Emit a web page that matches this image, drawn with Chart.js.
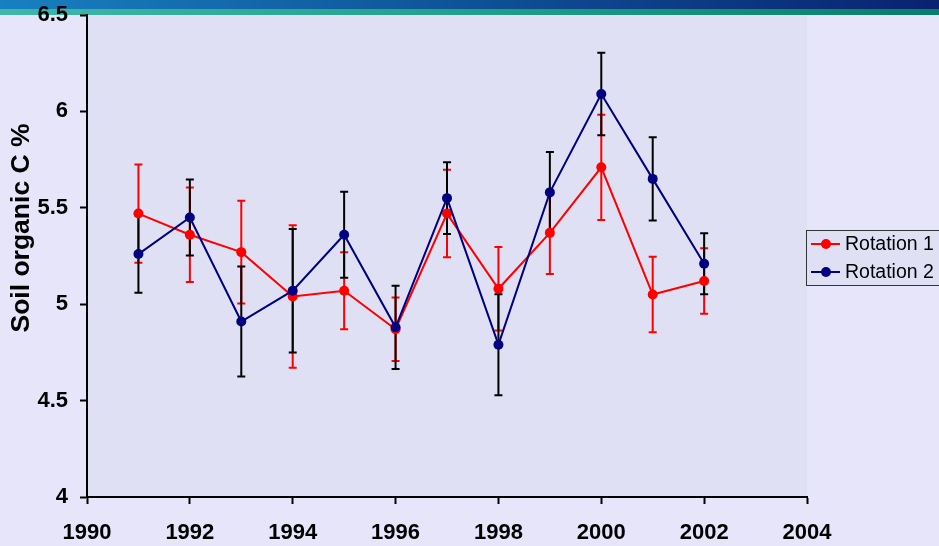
<!DOCTYPE html>
<html>
<head>
<meta charset="utf-8">
<script src="https://cdn.jsdelivr.net/npm/chart.js@4"></script>
<style>
    body { margin: 0; background: #E6E5FA; }
    #chart { display: block; }
</style>
</head>
<body>
<canvas id="chart" width="939" height="546"></canvas>
<script>
// 年ごとの土壌有機炭素（平均値と誤差）
const years = [1991, 1992, 1993, 1994, 1995, 1996, 1997, 1998, 1999, 2000, 2001, 2002];
const rotation1 = [5.47, 5.36, 5.27, 5.04, 5.07, 4.87, 5.47, 5.08, 5.37, 5.71, 5.05, 5.12];
const rotation1Err = [0.255, 0.245, 0.267, 0.37, 0.2, 0.165, 0.227, 0.217, 0.213, 0.273, 0.196, 0.17];
const rotation2 = [5.26, 5.45, 4.91, 5.07, 5.36, 4.88, 5.55, 4.79, 5.58, 6.09, 5.65, 5.21];
const rotation2Err = [0.2, 0.197, 0.285, 0.32, 0.223, 0.216, 0.186, 0.262, 0.21, 0.214, 0.216, 0.158];
const seriesNames = ['Rotation 1', 'Rotation 2'];
const yTitle = 'Soil organic C %';

const toPoints = (vals) => years.map((yr, i) => ({ x: yr, y: vals[i] }));

// 背景・上部の帯・プロットエリア
const background = {
    id: 'background',
    beforeDraw(chart) {
        const { ctx, chartArea } = chart;
        const w = chart.width;
        ctx.save();
        ctx.fillStyle = '#E6E5FA';
        ctx.fillRect(0, 0, w, chart.height);
        let g = ctx.createLinearGradient(0, 0, w, 0);
        g.addColorStop(0, '#1880C0');
        g.addColorStop(0.5, '#0E5296');
        g.addColorStop(1, '#0A2270');
        ctx.fillStyle = g;
        ctx.fillRect(0, 0, w, 9);
        g = ctx.createLinearGradient(0, 0, w, 0);
        g.addColorStop(0, '#40B8A8');
        g.addColorStop(0.5, '#20A08C');
        g.addColorStop(1, '#087E6C');
        ctx.fillStyle = g;
        ctx.fillRect(0, 9, w, 6);
        ctx.fillStyle = '#DFE0F3';
        ctx.fillRect(chartArea.left, chartArea.top, chartArea.right - chartArea.left, chartArea.bottom - chartArea.top);
        ctx.restore();
    }
};

// 縦軸タイトル（プロットエリア中央より少し上に配置）
const axisTitle = {
    id: 'axisTitle',
    afterDraw(chart) {
        const { ctx } = chart;
        ctx.save();
        ctx.translate(22, 228);
        ctx.rotate(-Math.PI / 2);
        ctx.fillStyle = '#000000';
        ctx.font = 'bold 26.5px "Liberation Sans", Arial, sans-serif';
        ctx.textAlign = 'center';
        ctx.textBaseline = 'middle';
        ctx.fillText(yTitle, 0, 0);
        ctx.restore();
    }
};

// 誤差棒
const errorBars = {
    id: 'errorBars',
    beforeDatasetsDraw(chart) {
        const { ctx, scales: { x, y } } = chart;
        chart.data.datasets.forEach(ds => {
            ctx.save();
            ctx.strokeStyle = ds.errColor;
            ctx.lineWidth = 2;
            ds.data.forEach((p, i) => {
                const px = x.getPixelForValue(p.x);
                const top = y.getPixelForValue(p.y + ds.errors[i]);
                const bot = y.getPixelForValue(p.y - ds.errors[i]);
                ctx.beginPath();
                ctx.moveTo(px, top);
                ctx.lineTo(px, bot);
                ctx.moveTo(px - 4, top);
                ctx.lineTo(px + 4, top);
                ctx.moveTo(px - 4, bot);
                ctx.lineTo(px + 4, bot);
                ctx.stroke();
            });
            ctx.restore();
        });
    }
};

// 凡例（枠付き）
const boxLegend = {
    id: 'boxLegend',
    afterDraw(chart) {
        const { ctx } = chart;
        ctx.save();
        ctx.fillStyle = '#DFE0F3';
        ctx.fillRect(806.5, 230.5, 140, 55);
        ctx.strokeStyle = '#333333';
        ctx.lineWidth = 1;
        ctx.strokeRect(806.5, 230.5, 140, 55);
        chart.data.datasets.forEach((ds, i) => {
            const cy = 244 + i * 28;
            ctx.strokeStyle = ds.borderColor;
            ctx.lineWidth = 2;
            ctx.beginPath();
            ctx.moveTo(811, cy);
            ctx.lineTo(840, cy);
            ctx.stroke();
            ctx.fillStyle = ds.borderColor;
            ctx.beginPath();
            ctx.arc(826, cy, 5, 0, Math.PI * 2);
            ctx.fill();
            ctx.fillStyle = '#000000';
            ctx.font = '19.5px "Liberation Sans", Arial, sans-serif';
            ctx.textBaseline = 'middle';
            ctx.fillText(ds.label, 845, cy + 1);
        });
        ctx.restore();
    }
};

const tickFont = { family: '"Liberation Sans", Arial, sans-serif', size: 22, weight: 'bold' };

new Chart(document.getElementById('chart').getContext('2d'), {
    type: 'line',
    data: {
        datasets: [{
            label: seriesNames[0],
            data: toPoints(rotation1),
            errors: rotation1Err,
            errColor: '#FF0000',
            borderColor: '#FF0000',
            backgroundColor: '#FF0000',
            borderWidth: 2,
            pointRadius: 5,
            pointBorderWidth: 0,
            tension: 0,
            order: 2
        }, {
            label: seriesNames[1],
            data: toPoints(rotation2),
            errors: rotation2Err,
            errColor: '#000000',
            borderColor: '#000080',
            backgroundColor: '#000080',
            borderWidth: 2,
            pointRadius: 5,
            pointBorderWidth: 0,
            tension: 0,
            order: 1
        }]
    },
    options: {
        responsive: false,
        animation: false,
        layout: { padding: { left: 0, top: 15, right: 132, bottom: 0 } },
        scales: {
            x: {
                type: 'linear',
                min: 1990,
                max: 2004,
                ticks: {
                    stepSize: 2,
                    color: '#000000',
                    font: tickFont,
                    padding: 16,
                    maxRotation: 0,
                    callback: v => String(v)
                },
                grid: { drawOnChartArea: false, tickLength: 7, tickColor: '#000000', tickWidth: 2 },
                border: { color: '#000000', width: 2 },
                afterFit(scale) {
                    scale.height = 49;
                    scale.paddingLeft = 0;
                    scale.paddingRight = 0;
                }
            },
            y: {
                min: 4,
                max: 6.5,
                ticks: {
                    stepSize: 0.5,
                    color: '#000000',
                    font: tickFont,
                    padding: 12,
                    callback: v => String(v)
                },
                grid: { drawOnChartArea: false, tickLength: 7, tickColor: '#000000', tickWidth: 2 },
                border: { color: '#000000', width: 2 },
                afterFit(scale) {
                    scale.width = 87;
                    scale.paddingTop = 0;
                    scale.paddingBottom = 0;
                }
            }
        },
        plugins: {
            legend: { display: false },
            tooltip: { enabled: false }
        }
    },
    plugins: [background, errorBars, boxLegend, axisTitle]
});
</script>
</body>
</html>
